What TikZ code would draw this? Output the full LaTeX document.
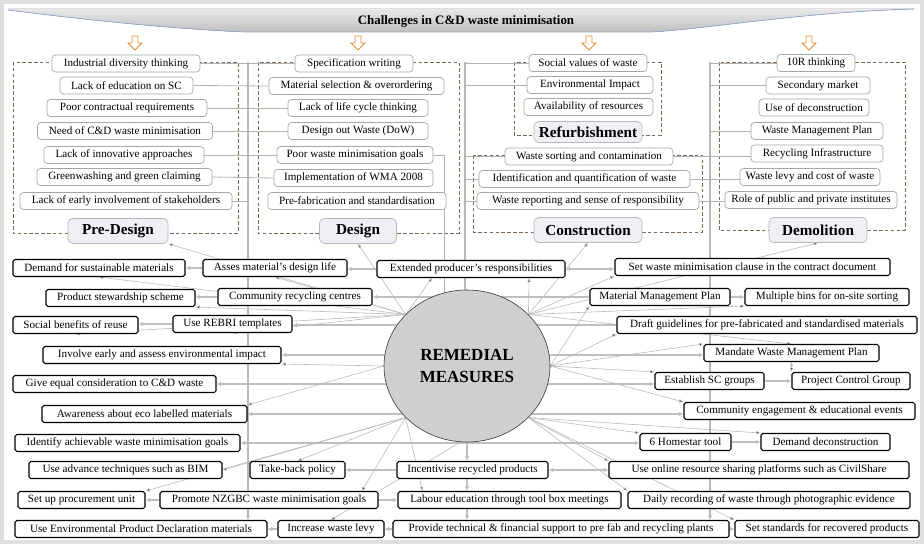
\documentclass[tikz,border=0pt]{standalone}
\usepackage{fontspec}
\setmainfont{Liberation Serif}
\usetikzlibrary{arrows.meta,shapes.geometric,backgrounds}
\definecolor{dashbrown}{RGB}{125,105,85}
\definecolor{arrorange}{RGB}{226,140,50}
\definecolor{phasefill}{RGB}{238,240,245}
\definecolor{bandline}{RGB}{150,170,200}

\tikzset{
  topbox/.style={draw=gray!70, fill=white, rounded corners=3pt, line width=0.6pt, minimum height=17*0.03cm, inner sep=1pt, font=\fontsize{9.5}{10}\selectfont},
  botbox/.style={draw=black, fill=white, rounded corners=1.5pt, line width=0.9pt, minimum height=17*0.03cm, inner sep=1pt, font=\fontsize{9.5}{10}\selectfont},
  phasebox/.style={draw=gray!55, fill=phasefill, rounded corners=4pt, line width=0.6pt, minimum height=25*0.03cm, font=\fontsize{13}{14}\selectfont\bfseries},
  wd/.style={minimum width=#1*0.03cm},
  grp/.style={draw=dashbrown, line width=0.7pt, dash pattern=on 3pt off 2pt},
  link/.style={draw=gray!60, line width=0.7pt},
  trunk/.style={draw=gray!55, line width=2pt},
  fat/.style={draw=gray!50, line width=1.8pt, -{Latex[length=4pt,width=4pt]}},
  fatboth/.style={draw=gray!50, line width=1.8pt, {Latex[length=4pt,width=4pt]}-{Latex[length=4pt,width=4pt]}},
  ray/.style={draw=gray!55, line width=0.5pt, -{Latex[length=3.5pt,width=3pt]}},
  downarr/.pic={\draw[draw=arrorange, fill=white, line width=0.8pt] (-3,0) -- (3,0) -- (3,7) -- (7,7) -- (0,14) -- (-7,7) -- (-3,7) -- cycle;}
}

\begin{document}
\begin{tikzpicture}[x=0.03cm, y=-0.03cm]
\useasboundingbox (0,0) rectangle (924,544);

\node[font=\fontsize{11}{12}\selectfont\bfseries] (title) at (466,21) {Challenges in C\&D waste minimisation};
\pic at (135,36) {downarr};
\pic at (358,36) {downarr};
\pic at (589,36) {downarr};
\pic at (809,36) {downarr};

\node[topbox, wd=148] (pd1) at (126,63.5) {Industrial diversity thinking};
\node[topbox, wd=133] (pd2) at (126.5,85.5) {Lack of education on SC};
\node[topbox, wd=160] (pd3) at (127,108) {Poor contractual requirements};
\node[topbox, wd=175] (pd4) at (125,131) {Need of C\&D waste minimisation};
\node[topbox, wd=160] (pd5) at (124,155) {Lack of innovative approaches};
\node[topbox, wd=175] (pd6) at (124.5,177) {Greenwashing and green claiming};
\node[topbox, wd=212] (pd7) at (126,201) {Lack of early involvement of stakeholders};
\node[phasebox, wd=100] (predesign) at (118,231) {Pre-Design};

\node[topbox, wd=118] (ds1) at (354,63.5) {Specification writing};
\node[topbox, wd=175] (ds2) at (356.5,86) {Material selection \& overordering};
\node[topbox, wd=140] (ds3) at (358,108) {Lack of life cycle thinking};
\node[topbox, wd=140] (ds4) at (358,131) {Design out Waste (DoW)};
\node[topbox, wd=156] (ds5) at (355,155) {Poor waste minimisation goals};
\node[topbox, wd=159] (ds6) at (353.5,178) {Implementation of WMA 2008};
\node[topbox, wd=178] (ds7) at (357,201) {Pre-fabrication and standardisation};
\node[phasebox, wd=77] (design) at (358,231) {Design};

\node[topbox, wd=118] (rf1) at (588,63) {Social values of waste};
\node[topbox, wd=126] (rf2) at (590,85) {Environmental Impact};
\node[topbox, wd=129] (rf3) at (588.5,107) {Availability of resources};
\node[phasebox, wd=108, minimum height=21*0.03cm] (refurb) at (588,132) {Refurbishment};

\node[topbox, wd=168] (cs1) at (589,156.5) {Waste sorting and contamination};
\node[topbox, wd=211] (cs2) at (584.5,179) {Identification and quantification of waste};
\node[topbox, wd=222] (cs3) at (588,201) {Waste reporting and sense of responsibility};
\node[phasebox, wd=108] (construction) at (588,230) {Construction};

\node[topbox, wd=78] (dm1) at (816,63) {10R thinking};
\node[topbox, wd=104] (dm2) at (818,85.5) {Secondary market};
\node[topbox, wd=110] (dm3) at (814,107.5) {Use of deconstruction};
\node[topbox, wd=132] (dm4) at (817,131) {Waste Management Plan};
\node[topbox, wd=132] (dm5) at (817,153.5) {Recycling Infrastructure};
\node[topbox, wd=140] (dm6) at (810,177) {Waste levy and cost of waste};
\node[topbox, wd=172] (dm7) at (811,200) {Role of public and private institutes};
\node[phasebox, wd=98] (demolition) at (818,230) {Demolition};

\node[ellipse, draw=black!80, fill=gray!38, line width=0.5pt, minimum width=166*0.03cm, minimum height=152*0.03cm, inner sep=0pt, align=center, font=\fontsize{14.5}{18}\selectfont\bfseries] (rm) at (467,366) {REMEDIAL\\MEASURES};

\node[botbox, wd=172] (b1) at (99,268) {Demand for sustainable materials};
\node[botbox, wd=144] (b2) at (275,268) {Asses material's design life};
\node[botbox, wd=188] (b3) at (471,269) {Extended producer's responsibilities};
\node[botbox, wd=275] (b4) at (752.5,267) {Set waste minimisation clause in the contract document};
\node[botbox, wd=149] (b5) at (120.5,298) {Product stewardship scheme};
\node[botbox, wd=154] (b6) at (295,297) {Community recycling centres};
\node[botbox, wd=140] (b7) at (660,297) {Material Management Plan};
\node[botbox, wd=164] (b8) at (827,297) {Multiple bins for on-site sorting};
\node[botbox, wd=125] (b9) at (75.5,325) {Social benefits of reuse};
\node[botbox, wd=119] (b10) at (232.5,324) {Use REBRI templates};
\node[botbox, wd=300] (b11) at (767,325) {Draft guidelines for pre-fabricated and standardised materials};
\node[botbox, wd=238] (b12) at (162,355) {Involve early and assess environmental impact};
\node[botbox, wd=175] (b13) at (791.5,353) {Mandate Waste Management Plan};
\node[botbox, wd=203] (b14) at (114.5,384) {Give equal consideration to C\&D waste};
\node[botbox, wd=109] (b15) at (709.5,381) {Establish SC groups};
\node[botbox, wd=118] (b16) at (851,381) {Project Control Group};
\node[botbox, wd=205] (b17) at (144.5,414) {Awareness about eco labelled materials};
\node[botbox, wd=231] (b18) at (799.5,411) {Community engagement \& educational events};
\node[botbox, wd=225] (b19) at (127.5,443) {Identify achievable waste minimisation goals};
\node[botbox, wd=91] (b20) at (685.5,442) {6 Homestar tool};
\node[botbox, wd=129] (b21) at (825.5,442) {Demand deconstruction};
\node[botbox, wd=193] (b22) at (125.5,470) {Use advance techniques such as BIM};
\node[botbox, wd=95] (b23) at (297.5,470) {Take-back policy};
\node[botbox, wd=151] (b24) at (472.5,470) {Incentivise recycled products};
\node[botbox, wd=300] (b25) at (759,470) {Use online resource sharing platforms such as CivilShare};
\node[botbox, wd=127] (b26) at (81.5,500) {Set up procurement unit};
\node[botbox, wd=218] (b27) at (269,500) {Promote NZGBC waste minimisation goals};
\node[botbox, wd=223] (b28) at (509.5,500) {Labour education through tool box meetings};
\node[botbox, wd=282] (b29) at (769,500) {Daily recording of waste through photographic evidence};
\node[botbox, wd=252] (b30) at (141,529) {Use Environmental Product Declaration materials};
\node[botbox, wd=106] (b31) at (331,529) {Increase waste levy};
\node[botbox, wd=336] (b32) at (561,529) {Provide technical \& financial support to pre fab and recycling plants};
\node[botbox, wd=184] (b33) at (827,529) {Set standards for recovered products};

\coordinate (tl) at (248,62);
\coordinate (tm) at (465,62);
\coordinate (tr) at (710,62);

\begin{scope}[on background layer]
\draw[gray!25, line width=3pt] (2,2) rectangle (922,542);
\fill[top color=gray!18, bottom color=gray!50] (8,9) -- (914,9) .. controls (800,12) and (700,30) .. (650,32) -- (245,32) .. controls (150,28) and (40,14) .. (8,10) -- cycle;
\draw[bandline, line width=0.6pt] (914,9) .. controls (800,12) and (700,30) .. (650,32) -- (245,32) .. controls (150,28) and (40,14) .. (8,10);

\draw[grp] (13,62) rectangle (238,233);
\draw[grp] (258,62) rectangle (459,233);
\draw[grp] (514,62) rectangle (661,135);
\draw[grp] (473,155) rectangle (702,232);
\draw[grp] (719,62) rectangle (905,230);

\draw[trunk, -{Latex[length=4pt,width=4pt]}] (tl) -- (tl |- b30.north);
\draw[trunk, -{Latex[length=4pt,width=4pt]}] (tr) -- (tr |- b32.north);
\draw[trunk] (tm) -- (tm |- rm.north);

\draw[link] (pd1.east) -- (ds1.west);
\draw[link] (pd2.east) -- (ds2.west);
\draw[link] (pd3.east) -- (ds3.west);
\draw[link] (pd4.east) -- (ds4.west);
\draw[link] (pd5.east) -- (ds5.west);
\draw[link] (pd6.east) -- (ds6.west);
\draw[link] (pd7.east) -- (pd7.east -| tl);
\draw[link] (ds5.east) -| (rm.107);
\draw[link] (rf1.west) -- (rf1.west -| tm);
\draw[link] (rf2.west) -- (rf2.west -| tm);
\draw[link] (cs1.west) -- (cs1.west -| tm);
\draw[link] (cs2.west) -- (cs2.west -| tm);
\draw[link] (cs3.west) -- (cs3.west -| tm);
\draw[link] (cs1.east) -- (cs1.east -| dm5.west);
\draw[link] (cs2.east) -- (cs2.east -| dm6.west);
\draw[link] (cs3.east) -- (cs3.east -| dm7.west);
\draw[link] (dm1.west) -- (dm1.west -| tr);
\draw[link] (dm2.west) -- (dm2.west -| tr);
\draw[link] (dm4.west) -- (dm4.west -| tr);

\draw[fat] (b3.west) -- (b3.west -| b2.east);
\draw[fat] (b2.west) -- (b2.west -| b1.east);
\draw[fatboth] (b3.east) -- (b3.east -| b4.west);
\draw[fat] (b7.west) -- (b7.west -| b6.east);
\draw[fat] (b6.west) -- (b6.west -| b5.east);
\draw[fat] (b7.east) -- (b7.east -| b8.west);
\draw[fat] (b11.west) -- (b11.west -| b10.east);
\draw[fat] (b10.west) -- (b10.west -| b9.east);
\draw[fatboth] (b12.east) -- (b12.east -| b13.west);
\draw[fatboth] (b14.east) -- (b14.east -| b15.west);
\draw[fat] (b15.east) -- (b15.east -| b16.west);
\draw[fatboth] (b17.east) -- (b17.east -| b18.west);
\draw[fatboth] (b19.east) -- (b19.east -| b20.west);
\draw[fat] (b20.east) -- (b20.east -| b21.west);
\draw[fat] (b24.west) -- (b24.west -| b23.east);
\draw[fatboth] (b24.east) -- (b24.east -| b25.west);
\draw[fat] (b27.west) -- (b27.west -| b26.east);
\draw[fat] (b27.east) -- (b27.east -| b28.west);
\draw[fat] (b31.west) -- (b31.west -| b30.east);
\draw[fat] (b32.west) -- (b32.west -| b31.east);
\draw[fat] (b32.east) -- (b32.east -| b33.west);
\draw[fat] (rm.south) -- (rm.south |- b24.north);
\draw[fat] (rm.south |- b24.south) -- (rm.south |- b28.north);
\draw[fat] (rm.south |- b28.south) -- (rm.south |- b32.north);

\path[ray] (rm.140) edge (predesign.south east)
                    edge (design.south)
                    edge (b1.south)
                    edge (b2.south)
                    edge (b5.south east)
                    edge ([xshift=-1.17cm]b3.south)
                    edge (b9.south)
                    edge (b10.south)
           (rm.180) edge (b12.south east)
                    edge (b17.north east)
           (rm.220) edge (b22.east)
                    edge (b23.north)
                    edge (b26.north east)
                    edge ([xshift=-0.5cm]b27.north east)
                    edge ([xshift=0.75cm]b28.north west)
           (rm.265) edge (b31.north)
           (rm.320) edge (b25.north west)
                    edge (b29.north west)
                    edge (b33.north west)
                    edge (b20.north west)
                    edge (b21.north west)
           (rm.0)   edge (b7.south west)
                    edge (b11.south west)
                    edge (b13.north west)
                    edge (b15.north west)
                    edge (b18.north west)
           (rm.40)  edge (construction.south)
                    edge (demolition.south)
                    edge (b4.south west)
                    edge (b8.south west)
                    edge ([xshift=1.74cm]b3.south)
                    edge (b13.north)
           (b13.south) edge (b16.north west);
\end{scope}
\end{tikzpicture}
\end{document}
